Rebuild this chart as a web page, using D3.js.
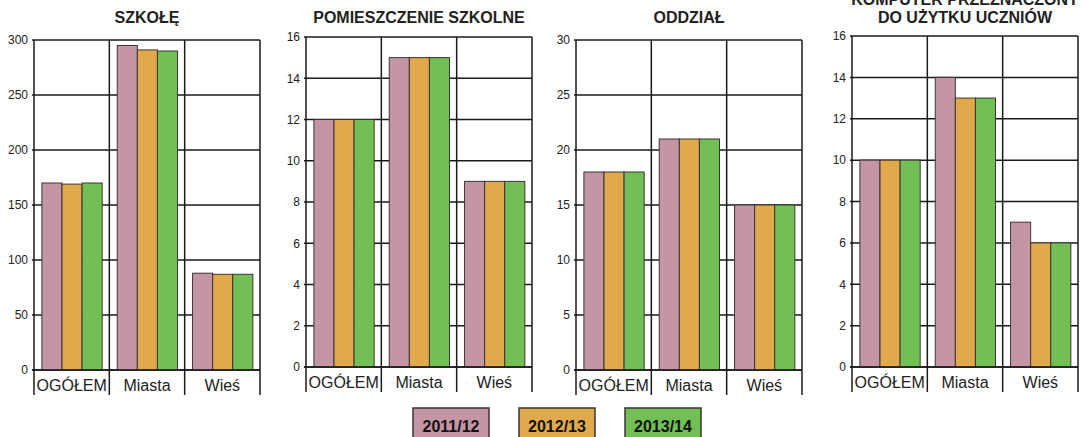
<!DOCTYPE html>
<html>
<head>
<meta charset="utf-8">
<script src="https://cdn.jsdelivr.net/npm/d3@7"></script>
<style>
  body { margin: 0; background: #fff; }
  svg { display: block; font-family: "Liberation Sans", Arial, sans-serif; }
</style>
</head>
<body>
<div id="chart"></div>
<script>
// data
var categories = ["OGÓŁEM", "Miasta", "Wieś"];
var seriesNames = ["2011/12", "2012/13", "2013/14"];
var seriesColors = ["#c495a3", "#e0a94b", "#72bf55"];

var panelTitles = [
    ["SZKOŁĘ"],
    ["POMIESZCZENIE SZKOLNE"],
    ["ODDZIAŁ"],
    ["KOMPUTER PRZEZNACZONY", "DO UŻYTKU UCZNIÓW"]
];
var yMaxValues = [300, 16, 30, 16];
var yTickSteps = [50, 2, 5, 2];

// values per panel: [category][series]
var szkoleValues = [[170, 169, 170], [295, 291, 290], [88, 87, 87]];
var pomieszczenieValues = [[12, 12, 12], [15, 15, 15], [9, 9, 9]];
var oddzialValues = [[18, 18, 18], [21, 21, 21], [15, 15, 15]];
var komputerValues = [[10, 10, 10], [14, 13, 13], [7, 6, 6]];
var panelValues = [szkoleValues, pomieszczenieValues, oddzialValues, komputerValues];

// layout
var W = 1084, H = 437;
var panelLeft = [34, 306, 576, 852];
var panelTop = [40, 37, 40, 36];
var panelZero = [370, 367, 370, 367];
var panelWidth = 226;
var lineColor = "#1a1a1a";

var svg = d3.select("#chart").append("svg")
        .attr("width", W)
        .attr("height", H);

panelValues.forEach(function (values, p) {
    var left = panelLeft[p], right = left + panelWidth;
    var top = panelTop[p], zero = panelZero[p];

    var x0 = d3.scaleBand()
            .domain(categories)
            .range([left, right])
            .padding(0);
    var bw = x0.bandwidth();
    var x1 = d3.scaleBand()
            .domain(seriesNames)
            .range([bw * 0.105, bw * 0.905])
            .padding(0);
    var y = d3.scaleLinear()
            .domain([0, yMaxValues[p]])
            .range([zero, top]);
    var ticks = d3.range(0, yMaxValues[p] + 0.001, yTickSteps[p]);

    var g = svg.append("g").attr("class", "panel");

    // horizontal grid lines
    g.append("g").selectAll("line")
            .data(ticks)
            .enter()
            .append("line")
            .attr("x1", left - 2)
            .attr("x2", right)
            .attr("y1", function (d) { return y(d); })
            .attr("y2", function (d) { return y(d); })
            .style("stroke", lineColor)
            .style("stroke-width", "1.5px");

    // y axis labels
    var yAxis = d3.axisLeft(y).tickValues(ticks).tickSize(0).tickPadding(6);
    var ax = g.append("g")
            .attr("transform", "translate(" + left + ",0)")
            .call(yAxis);
    ax.select(".domain").remove();
    ax.selectAll("text")
            .style("font-size", "12px")
            .style("font-family", "'Liberation Sans', Arial, sans-serif")
            .style("fill", "#222");

    // vertical lines: axis, category separators, right border
    var vx = categories.map(function (c) { return x0(c); }).concat([right]);
    g.append("g").selectAll("line")
            .data(vx)
            .enter()
            .append("line")
            .attr("x1", function (d) { return d; })
            .attr("x2", function (d) { return d; })
            .attr("y1", top)
            .attr("y2", zero + 25)
            .style("stroke", lineColor)
            .style("stroke-width", "1.5px");

    // bars
    var groups = g.append("g").selectAll("g")
            .data(values)
            .enter()
            .append("g")
            .attr("transform", function (d, i) {
                return "translate(" + x0(categories[i]) + ",0)";
            });
    groups.selectAll("rect")
            .data(function (d) { return d; })
            .enter()
            .append("rect")
            .attr("x", function (d, i) { return x1(seriesNames[i]); })
            .attr("width", x1.bandwidth())
            .attr("y", function (d) { return y(d); })
            .attr("height", function (d) { return zero - y(d); })
            .style("fill", function (d, i) { return seriesColors[i]; })
            .style("stroke", "#3b3535")
            .style("stroke-width", "1px");

    // zero line on top
    g.append("line")
            .attr("x1", left - 2)
            .attr("x2", right)
            .attr("y1", zero)
            .attr("y2", zero)
            .style("stroke", lineColor)
            .style("stroke-width", "1.5px");

    // category labels
    g.append("g").selectAll("text")
            .data(categories)
            .enter()
            .append("text")
            .attr("x", function (d) { return x0(d) + bw / 2; })
            .attr("y", zero + 21)
            .attr("text-anchor", "middle")
            .style("font-size", "16px")
            .style("fill", "#222")
            .text(function (d) { return d; });

    // title
    var lines = panelTitles[p];
    g.append("g").selectAll("text")
            .data(lines)
            .enter()
            .append("text")
            .attr("x", left + panelWidth / 2)
            .attr("y", function (d, i) { return 23 - (lines.length - 1 - i) * 18; })
            .attr("text-anchor", "middle")
            .style("font-size", "16px")
            .style("font-weight", "bold")
            .style("fill", "#222")
            .text(function (d) { return d; });
});

// legend
var legendX = d3.scaleBand()
        .domain(seriesNames)
        .range([413, 701])
        .paddingInner(0.283)
        .paddingOuter(0);
var legend = svg.append("g").selectAll("g")
        .data(seriesNames)
        .enter()
        .append("g")
        .attr("transform", function (d) { return "translate(" + legendX(d) + ",408)"; });
legend.append("rect")
        .attr("width", legendX.bandwidth())
        .attr("height", 32)
        .style("fill", function (d, i) { return seriesColors[i]; })
        .style("stroke", "#3b3535")
        .style("stroke-width", "1.5px");
legend.append("text")
        .attr("x", legendX.bandwidth() / 2)
        .attr("y", 23.5)
        .attr("text-anchor", "middle")
        .style("font-size", "16px")
        .style("font-weight", "bold")
        .style("fill", "#111")
        .text(function (d) { return d; });
</script>
</body>
</html>
